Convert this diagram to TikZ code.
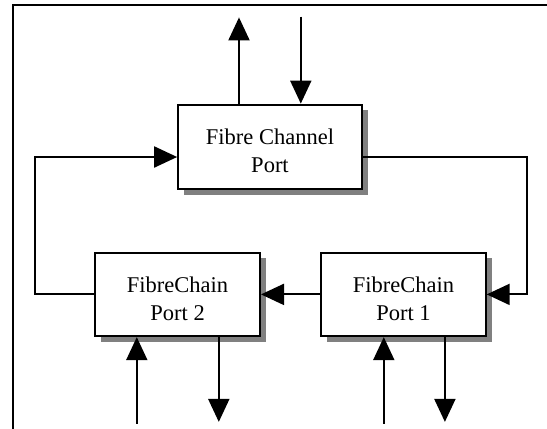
\documentclass[tikz,border=0pt]{standalone}
\usepackage{fontspec}
\setmainfont{Liberation Serif}
\usetikzlibrary{arrows.meta,shadows}
\begin{document}
\begin{tikzpicture}[x=1pt,y=-1pt,
  line width=2pt,
  arr/.style={-{Triangle[width=21pt,length=23pt]}},
  portbox/.style={draw, fill=white, inner sep=0pt,
    drop shadow={shadow xshift=6pt,shadow yshift=-5.5pt,fill=black!50,opacity=1}},
  porttext/.style={align=center, inner sep=0pt, yshift=-4pt,
    font=\fontsize{22.5}{28}\selectfont},
]
\useasboundingbox (0,0) rectangle (547,429);
% frame
\coordinate (ftl) at (13.3,5.2);
\coordinate (ftr) at (547,5.2);
\coordinate (fbl) at (13.3,429);
\draw (ftr) -- (ftl) -- (fbl);
% boxes
\node[portbox, minimum width=183.7pt, minimum height=84.6pt,
  label={[porttext]center:Fibre Channel\\Port}] (fc) at (270,146.9) {};
\node[portbox, minimum width=164.8pt, minimum height=83.5pt,
  label={[porttext]center:FibreChain\\Port 2}] (p2) at (177.6,294.4) {};
\node[portbox, minimum width=164.4pt, minimum height=83.5pt,
  label={[porttext]center:FibreChain\\Port 1}] (p1) at (403.5,294.4) {};
% free ends and corners
\coordinate (u1) at (239,17.4);
\coordinate (d1) at (300.8,16.7);
\coordinate (lt) at (34.9,157);
\coordinate (lb) at (34.9,294.4);
\coordinate (rt) at (526.9,157);
\coordinate (rb) at (526.9,294.4);
\coordinate (b1) at (136.8,423.6);
\coordinate (b2) at (218.8,421.9);
\coordinate (b3) at (383.8,423.6);
\coordinate (b4) at (444.9,421.9);
% connectors
\draw[arr] (u1 |- fc.north) -- (u1);
\draw[arr] (d1) -- (d1 |- fc.north);
\draw[arr] (p2.west) -- (lb) -- (lt) -- (lt -| fc.west);
\draw[arr] (rt -| fc.east) -- (rt) -- (rb) -- (p1.east);
\draw[arr] (p1.west) -- (p2.east);
\draw[arr] (b1) -- (b1 |- p2.south);
\draw[arr] (b2 |- p2.south) -- (b2);
\draw[arr] (b3) -- (b3 |- p1.south);
\draw[arr] (b4 |- p1.south) -- (b4);
\end{tikzpicture}
\end{document}
